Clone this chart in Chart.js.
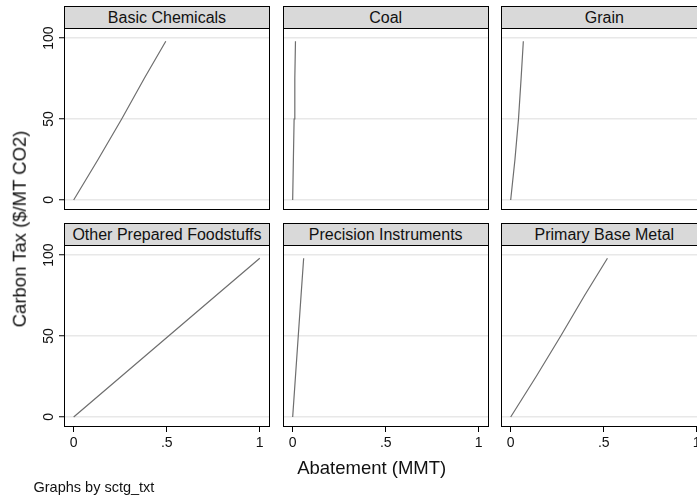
<!DOCTYPE html>
<html>
<head>
<meta charset="utf-8">
<script src="https://cdn.jsdelivr.net/npm/chart.js@4/dist/chart.umd.min.js"></script>
<style>
  body { margin: 0; width: 697px; height: 500px; overflow: hidden; background: #fff;
         font-family: 'Liberation Sans', Arial, Helvetica, sans-serif; color: #111; }
  #wrap { position: relative; width: 697px; height: 500px; overflow: hidden; }
  canvas { position: absolute; }
  .strip { position: absolute; box-sizing: border-box; background: #d9d9d9; border: 1px solid #000;
           text-align: center; font-size: 16px; white-space: nowrap; }
  .box { position: absolute; box-sizing: border-box; border: 1px solid #000; }
  .txt { position: absolute; white-space: nowrap; line-height: 1; }
</style>
</head>
<body>
<div id="wrap"></div>
<script>
// data
const sectors = ['Basic Chemicals', 'Coal', 'Grain', 'Other Prepared Foodstuffs', 'Precision Instruments', 'Primary Base Metal'];
const taxLevels = [0, 25, 50, 75, 98];
const abateBasicChem = [0, 0.131, 0.258, 0.379, 0.495];
const abateCoal = [0, 0.0038, 0.0077, 0.0115, 0.015];
const abateGrain = [0, 0.023, 0.042, 0.056, 0.068];
const abateOtherFood = [0, 0.255, 0.51, 0.765, 1.0];
const abatePrecision = [0, 0.015, 0.03, 0.045, 0.059];
const abateBaseMetal = [0, 0.137, 0.269, 0.397, 0.52];
const xTicks = [0, 0.5, 1];
const yTicks = [0, 50, 100];

const abatement = [abateBasicChem, abateCoal, abateGrain, abateOtherFood, abatePrecision, abateBaseMetal];

// layout
const colLeft = [64, 282.7, 501.3];
const stripTop = [6, 222.5];
const plotTop = [28, 244.5];
const panelW = 206, plotH = 182, stripH = 23;
const axisW = 64, axisH = 40, pad = 10;

const wrap = document.getElementById('wrap');

function fmtX(v) {
    if (v === 0) return '0';
    return String(v).replace(/^0\./, '.');
}

for (let i = 0; i < sectors.length; i++) {
    const c = i % 3, r = Math.floor(i / 3);
    const showY = c === 0, showX = r === 1;

    const cv = document.createElement('canvas');
    cv.width = axisW + panelW + pad;
    cv.height = pad + plotH + axisH;
    cv.style.left = (colLeft[c] - axisW) + 'px';
    cv.style.top = (plotTop[r] - pad) + 'px';
    wrap.appendChild(cv);

    const pts = abatement[i].map((x, k) => ({ x: x, y: taxLevels[k] }));

    new Chart(cv, {
        type: 'scatter',
        data: {
            datasets: [{
                data: pts,
                showLine: true,
                borderColor: '#6e6e6e',
                borderWidth: 1.2,
                pointRadius: 0,
                tension: 0
            }]
        },
        options: {
            responsive: false,
            animation: false,
            layout: { padding: { top: pad, right: pad, left: 0, bottom: 0 } },
            plugins: { legend: { display: false }, tooltip: { enabled: false } },
            scales: {
                x: {
                    type: 'linear',
                    min: -0.052, max: 1.055,
                    afterBuildTicks: s => { s.ticks = xTicks.map(v => ({ value: v })); },
                    afterFit: s => { s.height = axisH; },
                    border: { display: false },
                    grid: { drawOnChartArea: false, drawTicks: showX, tickLength: 5, tickColor: '#000', tickWidth: 1 },
                    ticks: {
                        display: showX, padding: 3, color: '#111',
                        font: { family: "'Liberation Sans', Arial, sans-serif", size: 14 },
                        maxRotation: 0, minRotation: 0,
                        callback: v => fmtX(v)
                    }
                },
                y: {
                    type: 'linear',
                    min: -6.2, max: 106.2,
                    afterBuildTicks: s => { s.ticks = yTicks.map(v => ({ value: v })); },
                    afterFit: s => { s.width = axisW; },
                    border: { display: false },
                    grid: { color: '#e8e8e8', lineWidth: 1.5, drawTicks: showY, tickLength: 5, tickColor: '#000', tickWidth: 1 },
                    ticks: {
                        display: showY, padding: -1.5, color: '#111',
                        font: { family: "'Liberation Sans', Arial, sans-serif", size: 14 },
                        minRotation: 90, maxRotation: 90, crossAlign: 'center'
                    }
                }
            }
        }
    });

    const box = document.createElement('div');
    box.className = 'box';
    box.style.left = colLeft[c] + 'px';
    box.style.top = plotTop[r] + 'px';
    box.style.width = panelW + 'px';
    box.style.height = plotH + 'px';
    wrap.appendChild(box);

    const st = document.createElement('div');
    st.className = 'strip';
    st.style.left = colLeft[c] + 'px';
    st.style.top = stripTop[r] + 'px';
    st.style.width = panelW + 'px';
    st.style.height = stripH + 'px';
    st.style.lineHeight = (stripH - 2) + 'px';
    st.textContent = sectors[i];
    wrap.appendChild(st);
}

function addText(txt, css) {
    const d = document.createElement('div');
    d.className = 'txt';
    d.textContent = txt;
    Object.assign(d.style, css);
    wrap.appendChild(d);
    return d;
}

addText('Abatement (MMT)', { left: '371.7px', top: '459.3px', fontSize: '18.5px', transform: 'translateX(-50%)' });
addText('Carbon Tax ($/MT CO2)', { left: '20px', top: '229px', fontSize: '18.5px', transform: 'translate(-50%,-50%) rotate(-90deg)' });
addText('Graphs by sctg_txt', { left: '33.5px', top: '480.4px', fontSize: '14.5px' });
</script>
</body>
</html>
